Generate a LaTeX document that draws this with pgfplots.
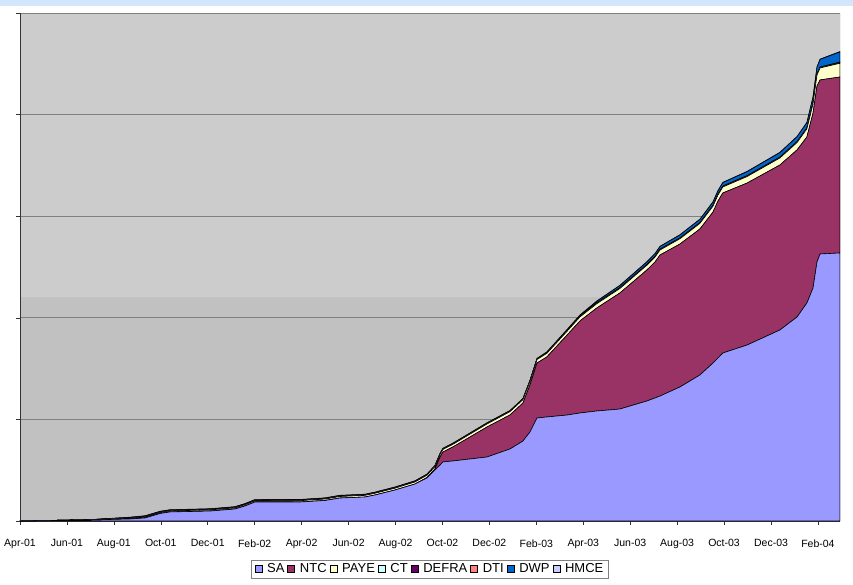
\documentclass[border=0pt]{standalone}
\usepackage{fontspec}
\setmainfont{Liberation Sans}
\usepackage{pgfplots}
\usepackage{pgfplotstable}
\pgfplotsset{compat=1.18}
\definecolor{cSA}{HTML}{9999FF}
\definecolor{cNTC}{HTML}{993366}
\definecolor{cPAYE}{HTML}{FFFFCC}
\definecolor{cCT}{HTML}{CCFFFF}
\definecolor{cDEFRA}{HTML}{660066}
\definecolor{cDTI}{HTML}{FF8080}
\definecolor{cDWP}{HTML}{0066CC}
\definecolor{cHMCE}{HTML}{CCCCFF}
\definecolor{bgA}{HTML}{CCCCCC}
\definecolor{bgB}{HTML}{C1C1C1}
\definecolor{topband}{HTML}{D4E6FC}
\definecolor{gridc}{HTML}{808080}
\pgfplotstableread{
m SA NTC PAYE CT DEFRA DTI DWP HMCE
0.00 0.000 0.000 0.000 0.000 0.000 0.000 0.000 0.000
2.98 0.010 0.000 0.003 0.000 0.000 0.000 0.000 0.000
4.69 0.020 0.000 0.006 0.003 0.003 0.003 0.000 0.003
5.33 0.030 0.000 0.010 0.003 0.003 0.003 0.000 0.003
5.97 0.074 0.000 0.010 0.003 0.003 0.003 0.000 0.003
6.39 0.089 0.000 0.010 0.003 0.003 0.003 0.000 0.003
8.10 0.098 0.000 0.011 0.003 0.003 0.003 0.000 0.003
9.16 0.118 0.000 0.011 0.003 0.003 0.003 0.000 0.003
9.59 0.148 0.000 0.012 0.003 0.003 0.003 0.000 0.003
10.01 0.187 0.000 0.012 0.003 0.003 0.003 0.000 0.003
11.93 0.187 0.000 0.013 0.003 0.003 0.003 0.000 0.003
13.00 0.202 0.000 0.014 0.003 0.003 0.003 0.000 0.003
13.63 0.226 0.000 0.015 0.003 0.003 0.003 0.000 0.003
14.70 0.236 0.000 0.016 0.003 0.003 0.003 0.000 0.003
15.13 0.256 0.000 0.017 0.003 0.003 0.003 0.000 0.003
15.98 0.305 0.000 0.018 0.003 0.003 0.003 0.000 0.003
16.83 0.364 0.000 0.020 0.003 0.003 0.003 0.000 0.003
17.34 0.423 0.005 0.022 0.003 0.003 0.003 0.000 0.003
17.68 0.502 0.010 0.023 0.003 0.003 0.003 0.000 0.003
17.90 0.551 0.079 0.025 0.003 0.003 0.003 0.000 0.003
18.02 0.581 0.098 0.025 0.003 0.003 0.003 0.000 0.003
18.45 0.591 0.138 0.026 0.003 0.003 0.003 0.000 0.003
19.90 0.630 0.295 0.030 0.003 0.003 0.003 0.000 0.003
20.88 0.709 0.335 0.032 0.003 0.003 0.003 0.000 0.003
21.43 0.787 0.374 0.033 0.003 0.003 0.003 0.000 0.003
21.73 0.876 0.463 0.034 0.003 0.003 0.003 0.000 0.003
22.03 1.014 0.541 0.034 0.003 0.003 0.003 0.000 0.003
22.45 1.024 0.591 0.035 0.003 0.003 0.003 0.003 0.003
23.31 1.043 0.787 0.037 0.003 0.003 0.003 0.006 0.003
23.86 1.063 0.906 0.039 0.003 0.003 0.003 0.008 0.003
24.58 1.083 1.014 0.042 0.003 0.003 0.003 0.015 0.003
25.56 1.102 1.142 0.044 0.003 0.003 0.003 0.020 0.003
26.71 1.181 1.289 0.047 0.003 0.003 0.003 0.023 0.003
27.06 1.211 1.339 0.048 0.003 0.003 0.003 0.024 0.003
27.27 1.230 1.388 0.049 0.003 0.003 0.003 0.025 0.003
28.12 1.319 1.407 0.052 0.003 0.003 0.003 0.028 0.003
28.97 1.437 1.437 0.055 0.003 0.003 0.003 0.030 0.003
29.53 1.555 1.486 0.058 0.003 0.003 0.003 0.032 0.003
29.74 1.604 1.545 0.059 0.003 0.003 0.003 0.033 0.003
29.95 1.654 1.575 0.059 0.003 0.003 0.003 0.034 0.003
30.98 1.732 1.594 0.064 0.003 0.003 0.003 0.039 0.003
32.38 1.880 1.624 0.069 0.003 0.003 0.003 0.044 0.003
33.11 2.008 1.644 0.073 0.003 0.003 0.003 0.048 0.003
33.53 2.146 1.634 0.080 0.003 0.003 0.003 0.052 0.003
33.79 2.293 1.722 0.089 0.003 0.003 0.003 0.059 0.003
33.96 2.549 1.732 0.108 0.003 0.003 0.003 0.069 0.003
34.09 2.628 1.713 0.118 0.003 0.003 0.003 0.075 0.003
34.94 2.638 1.732 0.135 0.004 0.004 0.004 0.100 0.004
}\data
\begin{document}
\begin{tikzpicture}[x=1pt,y=1pt]
\path[use as bounding box] (0,0) rectangle (853,584);
\fill[topband] (0,578) rectangle (853,584);
\fill[bgA] (20,63) rectangle (840,571);
\fill[bgB] (20,63) rectangle (600,287);
\begin{axis}[
  at={(20pt,63pt)}, anchor=south west,
  scale only axis, width=820pt, height=508pt,
  xmin=0, xmax=34.94, ymin=0, ymax=5,
  axis lines*=left,
  axis line style={draw=black!80, line width=0.8pt},
  stack plots=y,
  xtick={0,2,...,34},
  xticklabels={Apr-01,Jun-01,Aug-01,Oct-01,Dec-01,Feb-02,Apr-02,Jun-02,Aug-02,Oct-02,Dec-02,Feb-03,Apr-03,Jun-03,Aug-03,Oct-03,Dec-03,Feb-04},
  ytick={0,1,2,3,4,5},
  yticklabels={{},{},{},{},{},{}},
  tick align=outside,
  major tick length=4pt,
  tick style={draw=black!80, line width=0.6pt},
  xticklabel style={font=\fontsize{10.5}{12}\selectfont, yshift=-11pt},
  ymajorgrids,
  grid style={draw=gridc, line width=0.9pt},
  legend columns=8,
  legend style={at={(0.5,-0.0945)}, anchor=center, draw=gridc, fill=white,
    font=\fontsize{13}{15}\selectfont, inner xsep=3pt, inner ysep=2pt,
    /tikz/every even column/.append style={column sep=1pt},
    /tikz/every odd column/.append style={column sep=3pt}},
  legend image code/.code={\draw[#1,draw=black,line width=0.5pt] (0pt,-3.5pt) rectangle (7pt,3.5pt);},
  every axis plot/.append style={line width=0.6pt, draw=black, mark=none},
]
\addplot[fill=cSA] table[x=m,y=SA]{\data} \closedcycle;
\addplot[fill=cNTC] table[x=m,y=NTC]{\data} \closedcycle;
\addplot[fill=cPAYE] table[x=m,y=PAYE]{\data} \closedcycle;
\addplot[fill=cCT] table[x=m,y=CT]{\data} \closedcycle;
\addplot[fill=cDEFRA] table[x=m,y=DEFRA]{\data} \closedcycle;
\addplot[fill=cDTI] table[x=m,y=DTI]{\data} \closedcycle;
\addplot[fill=cDWP] table[x=m,y=DWP]{\data} \closedcycle;
\addplot[fill=cHMCE] table[x=m,y=HMCE]{\data} \closedcycle;
\legend{SA,NTC,PAYE,CT,DEFRA,DTI,DWP,HMCE}
\draw[gridc, line width=0.9pt] (rel axis cs:1,0) -- (rel axis cs:1,1);
\end{axis}
\end{tikzpicture}
\end{document}
